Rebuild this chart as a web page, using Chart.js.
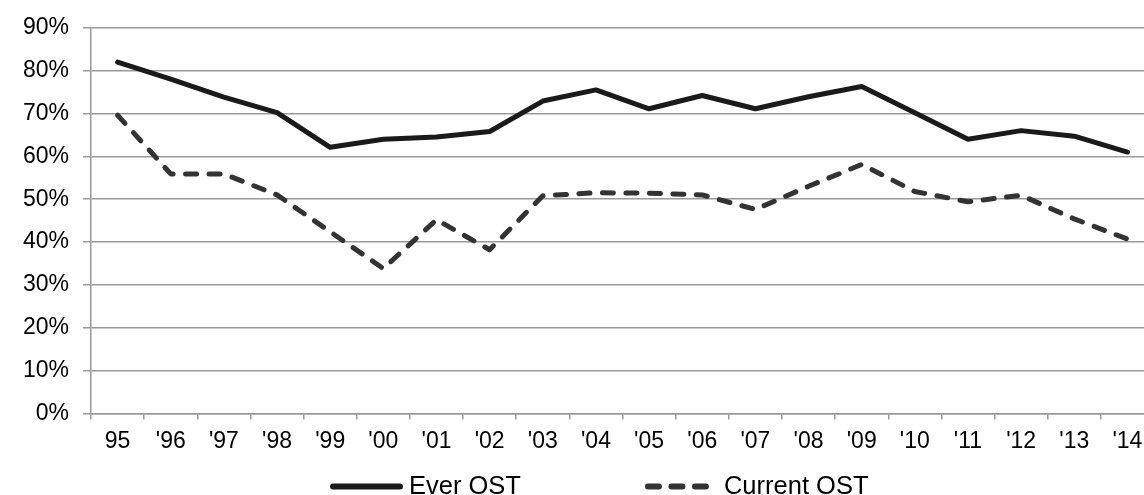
<!DOCTYPE html>
<html>
<head>
<meta charset="utf-8">
<script src="https://cdn.jsdelivr.net/npm/chart.js@4/dist/chart.umd.min.js"></script>
<style>
  html, body { margin: 0; padding: 0; background: #fff; overflow: hidden; }
  #wrap { width: 1160px; height: 495px; }
</style>
</head>
<body>
<div id="wrap"><canvas id="chart" width="1160" height="495"></canvas></div>
<script>
// Years on the x axis
const years = ['95', "'96", "'97", "'98", "'99", "'00", "'01", "'02", "'03", "'04",
  "'05", "'06", "'07", "'08", "'09", "'10", "'11", "'12", "'13", "'14"];

// Percent values
const everOST = [82, 78, 73.8, 70.2, 62.1, 64, 64.5, 65.8, 72.9, 75.5,
  71.1, 74.2, 71.1, 73.9, 76.3, 70.2, 64, 66, 64.7, 61];
const currentOST = [69.6, 55.9, 55.9, 51, 42.4, 33.8, 45.2, 38.2, 50.8, 51.5,
  51.4, 51, 47.6, 53, 58.1, 51.8, 49.4, 50.9, 45.4, 40.7];

// Y axis range and step (percent)
const yMin = 0;
const yMax = 90;
const yStep = 10;

const FONT = '"Liberation Sans", Arial, sans-serif';
const GRID = '#9a9a9a';

// Legend drawn under the axis, items spaced like the original
const bottomLegend = {
  id: 'bottomLegend',
  afterDraw(chart) {
    const ctx = chart.ctx;
    const y = chart.chartArea.bottom + 73;
    const lens = [73, 65];
    const gaps = [6, 14];
    let x = 330;
    ctx.save();
    ctx.font = '25.5px ' + FONT;
    ctx.textBaseline = 'middle';
    chart.data.datasets.forEach((ds, i) => {
      ctx.beginPath();
      ctx.strokeStyle = ds.borderColor;
      ctx.lineWidth = ds.borderWidth + 1;
      ctx.lineCap = 'round';
      ctx.setLineDash(ds.borderDash || []);
      ctx.moveTo(x + 3, y);
      ctx.lineTo(x + lens[i] - 3, y);
      ctx.stroke();
      ctx.setLineDash([]);
      x += lens[i] + gaps[i];
      ctx.fillStyle = '#000';
      ctx.fillText(ds.label, x, y + 1);
      x += ctx.measureText(ds.label).width + 124;
    });
    ctx.restore();
  }
};

new Chart(document.getElementById('chart'), {
  type: 'line',
  data: {
    labels: years,
    datasets: [
      {
        label: 'Ever OST',
        data: everOST,
        borderColor: '#1a1a1a',
        borderWidth: 5,
        borderCapStyle: 'round',
        borderJoinStyle: 'round',
        pointRadius: 0,
        tension: 0
      },
      {
        label: 'Current OST',
        data: currentOST,
        borderColor: '#333333',
        borderWidth: 5,
        borderDash: [11, 12.5],
        borderCapStyle: 'round',
        borderJoinStyle: 'round',
        pointRadius: 0,
        tension: 0
      }
    ]
  },
  options: {
    responsive: false,
    animation: false,
    layout: { padding: { left: 9, right: 6, top: 8, bottom: 32 } },
    plugins: {
      legend: { display: false },
      tooltip: { enabled: false }
    },
    scales: {
      x: {
        offset: true,
        grid: {
          offset: true,
          drawOnChartArea: false,
          drawTicks: true,
          tickLength: 6,
          color: GRID,
          lineWidth: 1.5
        },
        border: { color: GRID, width: 1.5 },
        ticks: {
          color: '#000',
          padding: 8,
          maxRotation: 0,
          autoSkip: false,
          font: { family: FONT, size: 23 }
        }
      },
      y: {
        min: yMin,
        max: yMax,
        grid: {
          color: GRID,
          lineWidth: 1.5,
          tickLength: 8
        },
        border: { color: GRID, width: 1.5 },
        ticks: {
          stepSize: yStep,
          color: '#000',
          padding: 14,
          font: { family: FONT, size: 23 },
          callback: v => v + '%'
        }
      }
    }
  },
  plugins: [bottomLegend]
});
</script>
</body>
</html>
